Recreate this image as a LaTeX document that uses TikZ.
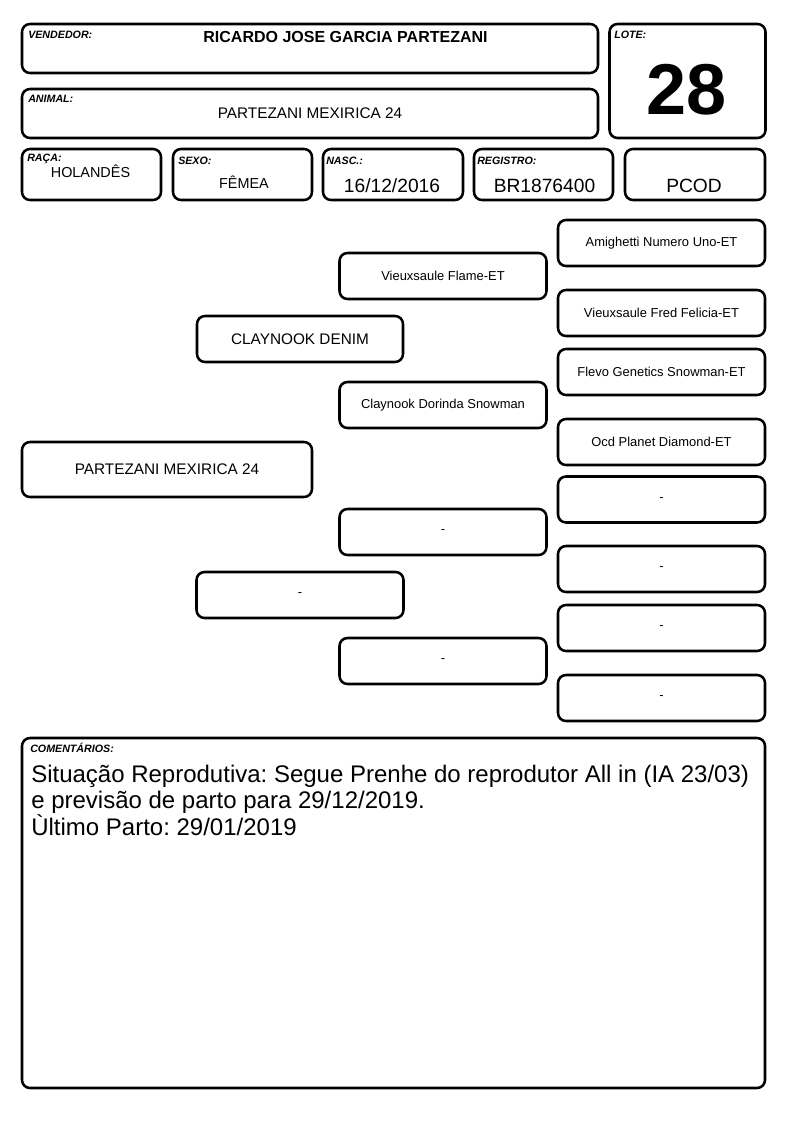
\documentclass[tikz,border=0pt]{standalone}
\usepackage{fontspec}
\setmainfont{Liberation Sans}
\frenchspacing

\begin{document}
\begin{tikzpicture}[x=0.75pt, y=-0.75pt,
  box/.style 2 args={draw, line width=1.9pt, rounded corners=6pt, minimum width=#1*0.75pt, minimum height=#2*0.75pt, inner sep=0pt},
  tag/.style={anchor=base west, inner sep=0pt, font=\fontsize{8}{9}\selectfont\bfseries\itshape},
  val/.style={anchor=base, inner sep=0pt},
  ped/.style={box={207}{46}, font=\fontsize{9.7}{11}\selectfont},
  pedbig/.style={box={206}{46}, font=\fontsize{11.5}{13}\selectfont}]

\path[use as bounding box] (0,0) rectangle (794,1123);

% Header boxes
\node[box={576}{49}] (vend) at (310,48.5) {};
\node[box={576}{49}] (anim) at (310,113.5) {};
\node[box={156}{114}] (lote) at (687.5,81) {};
\node[box={139}{51}] (raca) at (91.5,174.5) {};
\node[box={139}{51}] (sexo) at (242.5,174.5) {};
\node[box={140}{51}] (nasc) at (393,174.5) {};
\node[box={139}{51}] (reg)  at (543.5,174.5) {};
\node[box={140}{51}] (pcod) at (695,174.5) {};

% Header labels
\node[tag] (tvend) at (28,39)  {VENDEDOR:};
\node[tag] (tanim) at (28,103) {ANIMAL:};
\node[tag] (tlote) at (614,39) {LOTE:};
\node[tag] (traca) at (27,162) {RAÇA:};
\node[tag] (tsexo) at (178,165) {SEXO:};
\node[tag] (tnasc) at (326,165) {NASC.:};
\node[tag] (treg)  at (477,165) {REGISTRO:};

% Header values
\node[val, font=\fontsize{12}{14}\selectfont\bfseries] (vvend) at (345.5,43) {RICARDO JOSE GARCIA PARTEZANI};
\node[val, font=\fontsize{11.5}{13}\selectfont] (vanim) at (310,119) {PARTEZANI MEXIRICA 24};
\node[val, font=\fontsize{54}{60}\selectfont\bfseries] (vlote) at (686.5,115) {28};
\node[val, font=\fontsize{10.8}{12}\selectfont] (vraca) at (90.5,178) {HOLANDÊS};
\node[val, font=\fontsize{10.8}{12}\selectfont] (vsexo) at (244,189) {FÊMEA};
\node[val, font=\fontsize{14.4}{16}\selectfont] (vnasc) at (392,193) {16/12/2016};
\node[val, font=\fontsize{14.4}{16}\selectfont] (vreg)  at (544.5,193) {BR1876400};
\node[val, font=\fontsize{14.4}{16}\selectfont] (vpcod) at (694,193) {PCOD};

% Level 0 (animal)
\node[box={290}{55}, font=\fontsize{11.5}{13}\selectfont] (p0) at (167,469.5) {PARTEZANI MEXIRICA 24};

% Level 1
\node[pedbig] (p1) at (300,339) {CLAYNOOK DENIM};
\node[ped] (p2) at (300,595) {-};

% Level 2
\node[ped] (p3) at (443,276) {Vieuxsaule Flame-ET};
\node[ped] (p4) at (443,405) {Claynook Dorinda Snowman};
\node[ped] (p5) at (443,532) {-};
\node[ped] (p6) at (443,661) {-};

% Level 3
\node[ped] (p7)  at (661.5,243) {Amighetti Numero Uno-ET};
\node[ped] (p8)  at (661.5,313) {Vieuxsaule Fred Felicia-ET};
\node[ped] (p9)  at (661.5,372) {Flevo Genetics Snowman-ET};
\node[ped] (p10) at (661.5,442) {Ocd Planet Diamond-ET};
\foreach \i/\y in {11/499.5,12/569,13/628,14/698}
  \node[ped] (p\i) at (661.5,\y) {-};

% Comments
\node[box={743}{350}] (com) at (393.5,913) {};
\node[tag] (tcom) at (30,752) {COMENTÁRIOS:};
\node[anchor=base west, inner sep=0pt, font=\fontsize{18}{20}\selectfont] (c1) at (31,782) {Situação Reprodutiva: Segue Prenhe do reprodutor All in (IA 23/03)};
\node[anchor=base west, inner sep=0pt, font=\fontsize{18}{20}\selectfont] (c2) at (31,808.5) {e previsão de parto para 29/12/2019.};
\node[anchor=base west, inner sep=0pt, font=\fontsize{18}{20}\selectfont] (c3) at (31,835) {Ùltimo Parto: 29/01/2019};
\end{tikzpicture}
\end{document}
